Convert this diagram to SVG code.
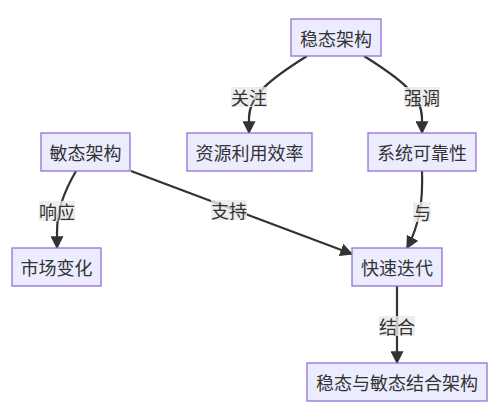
<svg xmlns="http://www.w3.org/2000/svg" width="497" height="406" viewBox="0 0 497 406">
<defs>
<style>
.node rect{fill:#ECECFF;stroke:#9370DB;stroke-width:1.3}
.node text,.lbl text{font-family:"Noto Sans CJK SC","Noto Sans",sans-serif;font-size:18px;fill:#333333;text-anchor:middle;dominant-baseline:central}
.edge{fill:none;stroke:#333333;stroke-width:2.2;marker-end:url(#arrow)}
.lbl rect{fill:#e8e8e8;fill-opacity:0.8}
</style>
<marker id="arrow" viewBox="0 0 10 10" refX="9" refY="5" markerUnits="userSpaceOnUse" markerWidth="13" markerHeight="13" orient="auto">
<path d="M0,0 L10,5 L0,10 z" fill="#333333"/>
</marker>
</defs>
<rect width="497" height="406" fill="#ffffff"/>
<g id="connectors">
<path class="edge" d="M307,56 C272,78 249,95 249,118 L249,133"/>
<path class="edge" d="M364,56 C399,78 422,95 422,118 L422,133"/>
<path class="edge" d="M76,171 C64,192 57,210 57,232 L57,248"/>
<path class="edge" d="M131,171 L352,254"/>
<path class="edge" d="M422,171 C423,200 420,224 407,248"/>
<path class="edge" d="M397,286 L397,363"/>
</g>
<g id="edge-labels">
<g class="lbl"><rect x="231" y="87" width="36" height="20"/><text x="249" y="97">关注</text></g>
<g class="lbl"><rect x="404" y="87" width="36" height="20"/><text x="422" y="97">强调</text></g>
<g class="lbl"><rect x="39" y="201" width="36" height="20"/><text x="57" y="211">响应</text></g>
<g class="lbl"><rect x="211" y="200" width="36" height="20"/><text x="229" y="210">支持</text></g>
<g class="lbl"><rect x="413" y="202" width="18" height="20"/><text x="422" y="212">与</text></g>
<g class="lbl"><rect x="379" y="316" width="36" height="20"/><text x="397" y="326">结合</text></g>
</g>
<g id="n-wentai" class="node"><rect x="291" y="19" width="90" height="37"/><text x="336" y="37.5">稳态架构</text></g>
<g id="n-ziyuan" class="node"><rect x="187" y="133" width="125" height="38"/><text x="249.5" y="152">资源利用效率</text></g>
<g id="n-xitong" class="node"><rect x="368" y="133" width="108" height="38"/><text x="422" y="152">系统可靠性</text></g>
<g id="n-mintai" class="node"><rect x="41" y="133" width="89" height="38"/><text x="85.5" y="152">敏态架构</text></g>
<g id="n-shichang" class="node"><rect x="12" y="248" width="89" height="38"/><text x="56.5" y="267">市场变化</text></g>
<g id="n-kuaisu" class="node"><rect x="352" y="248" width="90" height="38"/><text x="397" y="267">快速迭代</text></g>
<g id="n-jiehe" class="node"><rect x="307" y="363" width="180" height="38"/><text x="397" y="382">稳态与敏态结合架构</text></g>
</svg>
